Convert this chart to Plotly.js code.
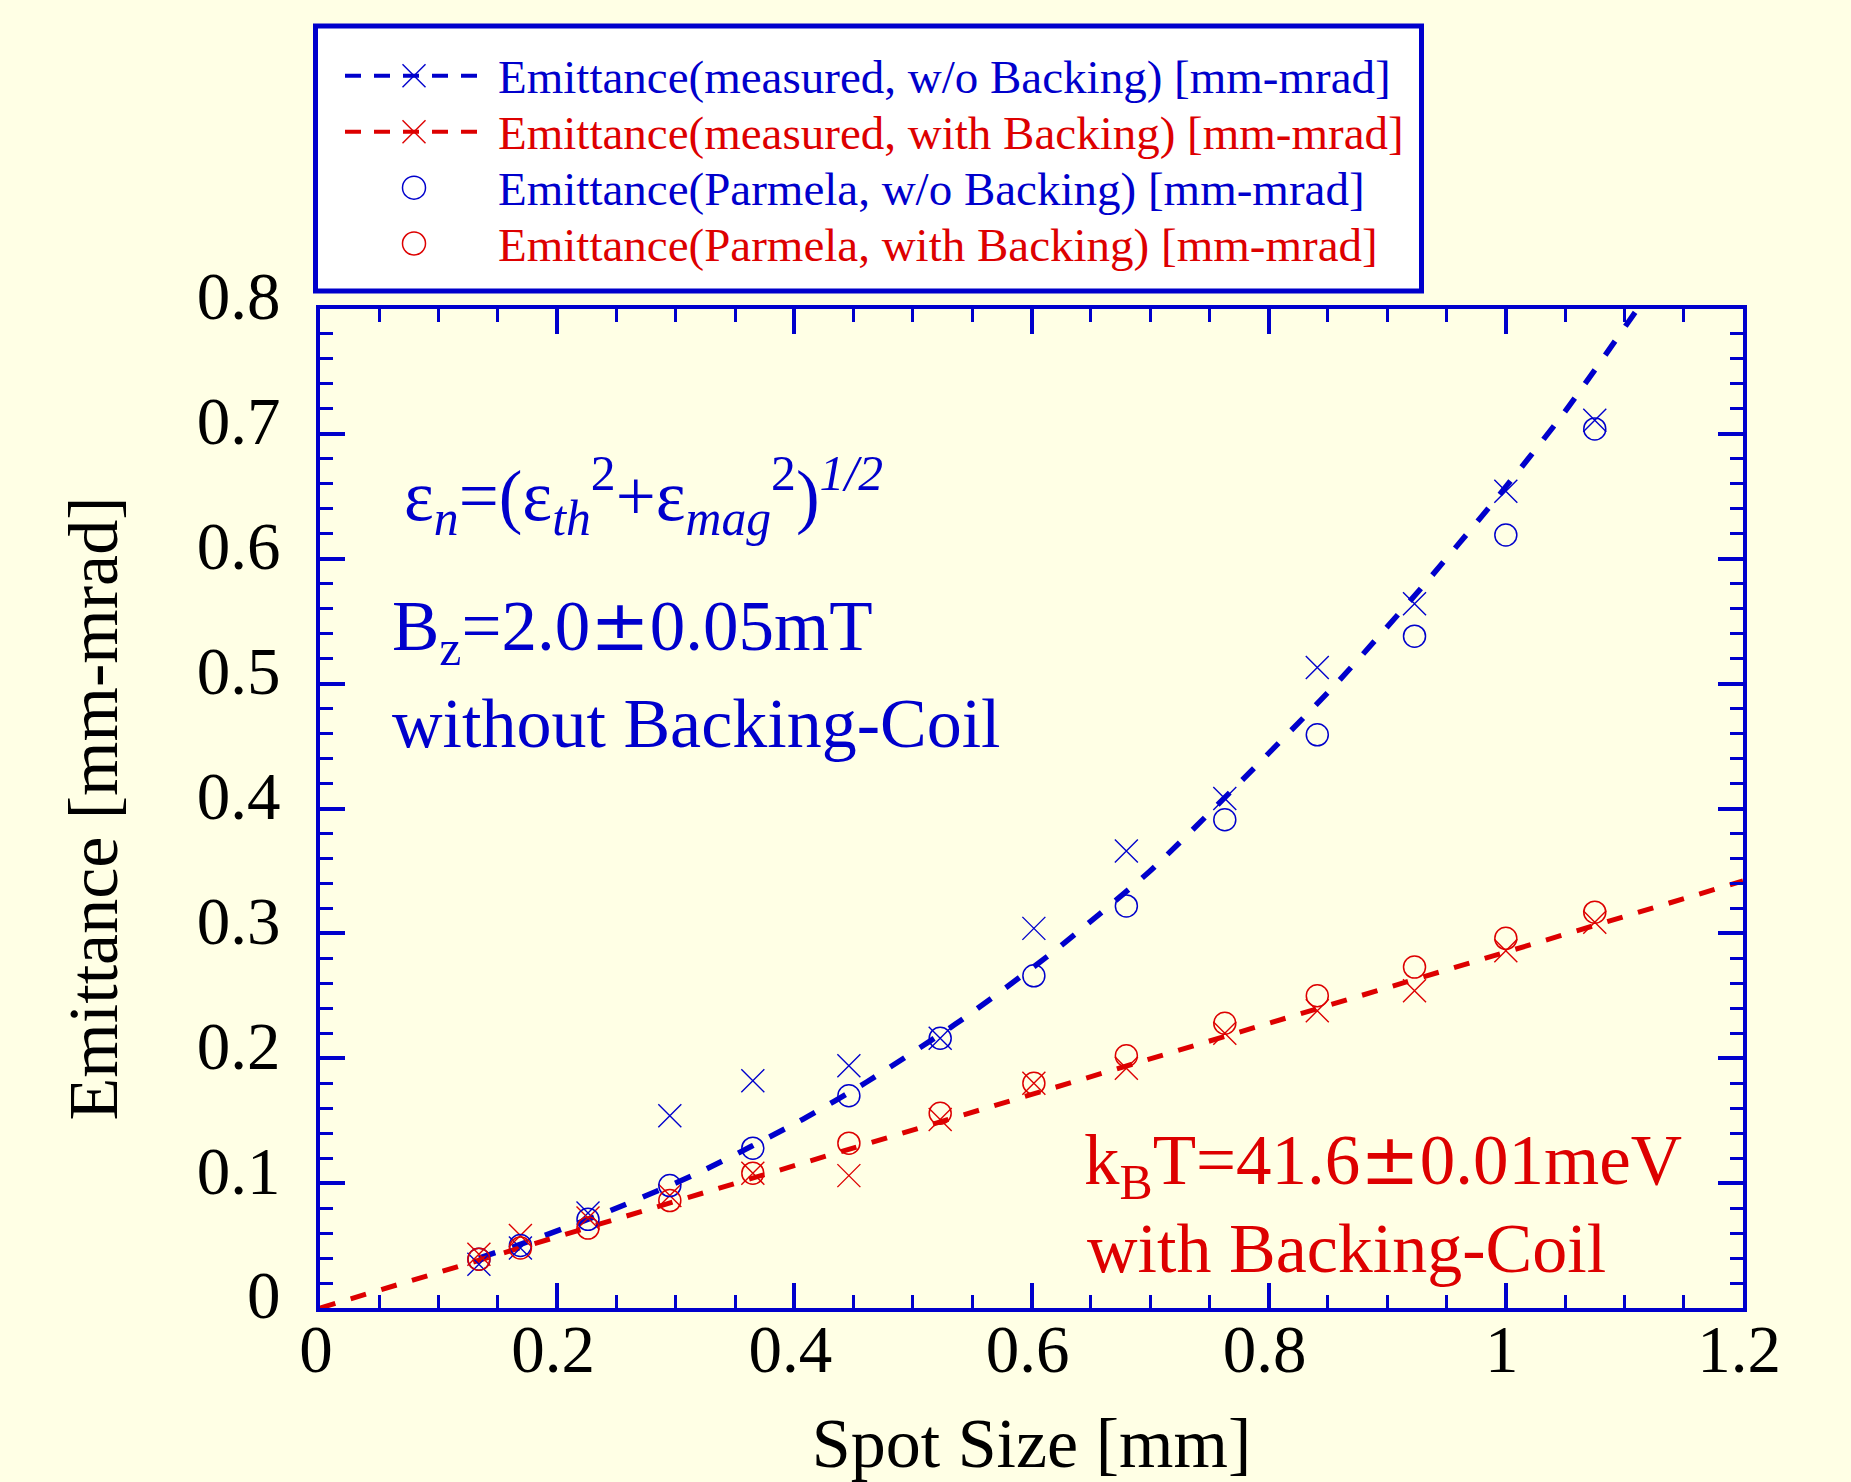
<!DOCTYPE html>
<html>
<head>
<meta charset="utf-8">
<script src="https://cdn.plot.ly/plotly-3.0.1.min.js"></script>
<style>html,body{margin:0;padding:0;background:#FFFFE5;}</style>
</head>
<body>
<div id="chart" style="width:1851px;height:1482px"></div>
<script>
// ---------------- data ----------------
const spotSize = [0.134, 0.169, 0.226, 0.295, 0.365, 0.446, 0.523, 0.602, 0.680, 0.763, 0.841, 0.923, 1.000, 1.075];
const measuredWoBacking   = [0.035, 0.048, 0.076, 0.154, 0.182, 0.194, 0.216, 0.304, 0.366, 0.408, 0.513, 0.564, 0.654, 0.711];
const measuredWithBacking = [0.043, 0.058, 0.072, 0.090, 0.108, 0.106, 0.151, 0.180, 0.192, 0.220, 0.238, 0.254, 0.286, 0.309];
const parmelaWoBacking    = [0.039, 0.050, 0.071, 0.098, 0.128, 0.170, 0.216, 0.266, 0.322, 0.391, 0.459, 0.538, 0.619, 0.704];
const parmelaWithBacking  = [0.039, 0.048, 0.064, 0.086, 0.108, 0.132, 0.156, 0.180, 0.202, 0.228, 0.250, 0.273, 0.296, 0.317];

// fitted curves (dashed), read along the drawn dashes
const fitWoBackingX = [0.134, 0.166, 0.245, 0.323, 0.405, 0.461, 0.540, 0.618, 0.700, 0.779, 0.857, 0.930, 0.991, 1.050, 1.111];
const fitWoBackingY = [0.040, 0.050, 0.078, 0.110, 0.150, 0.181, 0.230, 0.285, 0.350, 0.424, 0.500, 0.578, 0.647, 0.718, 0.800];
const fitWithBackingX = [0, 1.2];
const fitWithBackingY = [0, 0.342];

const xTickVals = [0, 0.2, 0.4, 0.6, 0.8, 1, 1.2];
const yTickVals = [0, 0.1, 0.2, 0.3, 0.4, 0.5, 0.6, 0.7, 0.8];

const legendLabels = [
  'Emittance(measured, w/o Backing) [mm-mrad]',
  'Emittance(measured, with Backing) [mm-mrad]',
  'Emittance(Parmela, w/o Backing) [mm-mrad]',
  'Emittance(Parmela, with Backing) [mm-mrad]'
];

// ---------------- styles ----------------
const BLUE = '#0000CC';
const RED = '#DD0000';
const BG = '#FFFFE5';
const FONT = '"Liberation Serif", "Times New Roman", Times, serif';
const PM = '<span style="font-family:\'DejaVu Serif\'">±</span>';

const W = 1851, H = 1482;
const M = {l: 320, r: 108, t: 309, b: 174};
const PW = W - M.l - M.r, PH = H - M.t - M.b;
const PX = p => (p - M.l) / PW;
const PY = p => (H - M.b - p) / PH;

const traces = [
  {x: fitWoBackingX, y: fitWoBackingY, mode: 'lines', showlegend: false, hoverinfo: 'skip',
   line: {color: BLUE, width: 5.5, dash: '17px,18px', shape: 'spline', smoothing: 0.6}},
  {x: fitWithBackingX, y: fitWithBackingY, mode: 'lines', showlegend: false, hoverinfo: 'skip',
   line: {color: RED, width: 5, dash: '16px,16px'}},
  {x: spotSize, y: measuredWoBacking, mode: 'markers', name: legendLabels[0], showlegend: false,
   marker: {symbol: 'x-thin-open', size: 23, color: BLUE, line: {color: BLUE, width: 1.4}}},
  {x: spotSize, y: measuredWithBacking, mode: 'markers', name: legendLabels[1], showlegend: false,
   marker: {symbol: 'x-thin-open', size: 23, color: RED, line: {color: RED, width: 1.4}}},
  {x: spotSize, y: parmelaWoBacking, mode: 'markers', name: legendLabels[2], showlegend: false,
   marker: {symbol: 'circle-open', size: 22, color: BLUE, line: {color: BLUE, width: 1.5}}},
  {x: spotSize, y: parmelaWithBacking, mode: 'markers', name: legendLabels[3], showlegend: false,
   marker: {symbol: 'circle-open', size: 22, color: RED, line: {color: RED, width: 1.5}}}
];

const axisCommon = {
  showline: true, linecolor: BLUE, linewidth: 4, mirror: 'allticks',
  ticks: 'inside', ticklen: 25, tickwidth: 4, tickcolor: BLUE,
  showgrid: false, zeroline: false, automargin: false,
  tickfont: {family: FONT, size: 67, color: '#000000'}
};

// ---------------- manual legend box ----------------
const legendRowsY = [75.7, 131.7, 187.7, 243.5];
const legendColors = [BLUE, RED, BLUE, RED];
const shapes = [
  {type: 'rect', xref: 'paper', yref: 'paper', x0: PX(315.5), x1: PX(1421.5), y0: PY(291), y1: PY(26),
   fillcolor: '#FFFFFF', line: {color: BLUE, width: 5}, layer: 'below'}
];
const annotations = [];
const symX = 414, half = 11.5;
legendRowsY.forEach((yy, i) => {
  const c = legendColors[i];
  if (i < 2) {
    shapes.push({type: 'line', xref: 'paper', yref: 'paper', x0: PX(345), x1: PX(484), y0: PY(yy), y1: PY(yy),
      line: {color: c, width: 4, dash: '16px,13px'}});
    shapes.push({type: 'line', xref: 'paper', yref: 'paper', x0: PX(symX - half), x1: PX(symX + half),
      y0: PY(yy - half), y1: PY(yy + half), line: {color: c, width: 1.4}});
    shapes.push({type: 'line', xref: 'paper', yref: 'paper', x0: PX(symX - half), x1: PX(symX + half),
      y0: PY(yy + half), y1: PY(yy - half), line: {color: c, width: 1.4}});
  } else {
    shapes.push({type: 'circle', xref: 'paper', yref: 'paper', x0: PX(symX - half), x1: PX(symX + half),
      y0: PY(yy + half), y1: PY(yy - half), line: {color: c, width: 1.5}});
  }
  annotations.push({xref: 'paper', yref: 'paper', x: PX(496), y: PY(yy + 1), xanchor: 'left', yanchor: 'middle',
    text: legendLabels[i], showarrow: false, font: {family: FONT, size: 47, color: c}});
});

// ---------------- in-plot texts ----------------
annotations.push(
  {xref: 'paper', yref: 'paper', x: PX(402), y: PY(444), xanchor: 'left', yanchor: 'top', showarrow: false,
   text: 'ε<sub><i>n</i></sub>=(ε<sub><i>th</i></sub><sup>2</sup>+ε<sub><i>mag</i></sub><sup>2</sup>)<sup><i>1/2</i></sup>',
   font: {family: FONT, size: 71, color: BLUE}},
  {xref: 'paper', yref: 'paper', x: PX(390), y: PY(582), xanchor: 'left', yanchor: 'top', showarrow: false,
   text: 'B<sub>z</sub>=2.0' + PM + '0.05mT', font: {family: FONT, size: 71, color: BLUE}},
  {xref: 'paper', yref: 'paper', x: PX(390), y: PY(683), xanchor: 'left', yanchor: 'top', showarrow: false,
   text: 'without Backing-Coil', font: {family: FONT, size: 70, color: BLUE}},
  {xref: 'paper', yref: 'paper', x: PX(1082), y: PY(1116), xanchor: 'left', yanchor: 'top', showarrow: false,
   text: 'k<sub>B</sub>T=41.6' + PM + '0.01meV', font: {family: FONT, size: 71, color: RED}},
  {xref: 'paper', yref: 'paper', x: PX(1085), y: PY(1208), xanchor: 'left', yanchor: 'top', showarrow: false,
   text: 'with Backing-Coil', font: {family: FONT, size: 70, color: RED}}
);

const layout = {
  width: W, height: H,
  margin: M,
  paper_bgcolor: BG, plot_bgcolor: BG,
  showlegend: false,
  font: {family: FONT, color: '#000000'},
  xaxis: Object.assign({}, axisCommon, {
    range: [0, 1.2], tickvals: xTickVals, ticklabelstandoff: -20, ticklabelshift: -4,
    minor: {dtick: 0.05, ticks: 'inside', ticklen: 13, tickwidth: 3, tickcolor: BLUE, showgrid: false},
    title: {text: 'Spot Size [mm]', font: {family: FONT, size: 70, color: '#000000'}, standoff: 68}
  }),
  yaxis: Object.assign({}, axisCommon, {
    range: [0, 0.8], tickvals: yTickVals, ticklabelstandoff: 22, ticklabelshift: -13,
    minor: {dtick: 0.02, ticks: 'inside', ticklen: 13, tickwidth: 3, tickcolor: BLUE, showgrid: false},
    title: {text: 'Emittance [mm-mrad]', font: {family: FONT, size: 70, color: '#000000'}, standoff: 57}
  }),
  shapes: shapes,
  annotations: annotations
};

Plotly.newPlot('chart', traces, layout, {displayModeBar: false, staticPlot: true});
</script>
</body>
</html>
